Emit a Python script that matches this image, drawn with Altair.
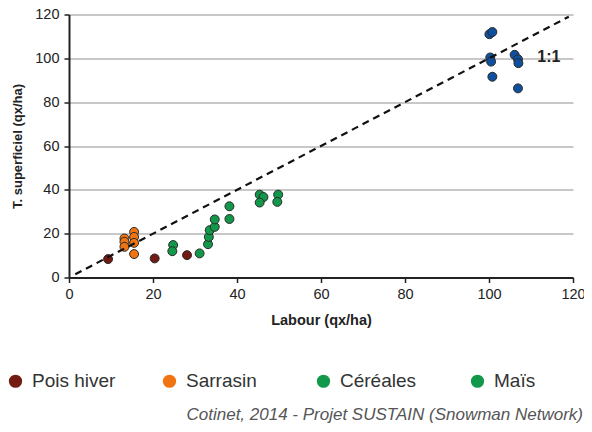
import altair as alt
import pandas as pd

# ---- data ----
pois_x = [9.3, 20.4, 28.1]
pois_y = [8.4, 8.7, 10.2]
sarrasin_x = [13.2, 13.2, 13.2, 15.5, 15.5, 15.5, 15.5]
sarrasin_y = [17.8, 16.3, 14.0, 20.8, 18.5, 15.8, 10.7]
cereales_x = [24.8, 24.6, 31.1, 33.1, 33.3, 33.5, 34.7, 34.7, 38.2, 38.2]
cereales_y = [14.8, 12.0, 11.0, 15.2, 18.5, 21.6, 23.1, 26.5, 32.5, 26.7]
mais_x = [45.4, 46.3, 45.4, 49.8, 49.6]
mais_y = [37.8, 36.7, 34.2, 37.8, 34.5]
autre_x = [100.1, 100.8, 100.3, 100.5, 100.8, 106.1, 106.9, 107.0, 106.9]
autre_y = [111.0, 112.0, 100.4, 98.5, 91.6, 101.6, 99.6, 97.8, 86.3]

categories = ["Pois hiver", "Sarrasin", "Céréales", "Maïs", "Autre"]
colors = ["#731b12", "#f07512", "#12984a", "#12984a", "#0e4f9e"]

line_x = [1.5, 119.0]
label_x = [111.5]
label_y = [100.7]
label_text = ["1:1"]
source_text = ["Cotinet, 2014 - Projet SUSTAIN (Snowman Network)"]

ticks = [0, 20, 40, 60, 80, 100, 120]

rows = []
for cat, xs, ys in [("Pois hiver", pois_x, pois_y), ("Sarrasin", sarrasin_x, sarrasin_y),
                    ("Céréales", cereales_x, cereales_y), ("Maïs", mais_x, mais_y),
                    ("Autre", autre_x, autre_y)]:
    for x, y in zip(xs, ys):
        rows.append({"cat": cat, "x": x, "y": y})
df = pd.DataFrame(rows)
line_df = pd.DataFrame({"x": line_x, "y": line_x})
label_df = pd.DataFrame({"x": label_x, "y": label_y, "t": label_text})
source_df = pd.DataFrame({"t": source_text})

FONT = "Liberation Sans Narrow, Liberation Sans, sans-serif"

xscale = alt.Scale(domain=[0, 120], nice=False)
yscale = alt.Scale(domain=[0, 120], nice=False)

xaxis = alt.Axis(values=ticks, title="Labour (qx/ha)", grid=False, domainColor="#222",
                 domainWidth=2, tickColor="#222", tickWidth=1.5, tickSize=5,
                 labelFontSize=14.5, labelFont=FONT, labelColor="#222", labelPadding=5,
                 labelFlush=False, labelOverlap=False,
                 titleFont=FONT, titleFontSize=14.5, titleFontWeight="bold", titleColor="#222",
                 titlePadding=12)
yaxis = alt.Axis(values=ticks, title="T. superficiel (qx/ha)", grid=True, gridColor="#c8c8c8",
                 gridWidth=2, domainColor="#222", domainWidth=2, tickColor="#222",
                 tickWidth=1.5, tickSize=5, labelFontSize=14.5, labelFont=FONT,
                 labelColor="#222", labelPadding=5, labelFlush=False, labelOverlap=False,
                 titleFont=FONT, titleFontSize=13,
                 titleFontWeight="bold", titleColor="#222", titlePadding=10)

points = alt.Chart(df).mark_circle(size=80, opacity=1, stroke="#2a2a2a", strokeWidth=1).encode(
    x=alt.X("x:Q", scale=xscale, axis=xaxis),
    y=alt.Y("y:Q", scale=yscale, axis=yaxis),
    color=alt.Color("cat:N", scale=alt.Scale(domain=categories, range=colors),
                    legend=alt.Legend(values=categories[:4], title=None, orient="none",
                                      legendX=-63, legendY=357, direction="horizontal",
                                      columns=4, columnPadding=44, gridAlign="all",
                                      symbolType="circle",
                                      symbolSize=175, symbolStrokeWidth=0, symbolOpacity=1,
                                      labelFontSize=19, labelFont="Liberation Sans",
                                      labelColor="#333", labelOffset=7)),
)

line = alt.Chart(line_df).mark_line(color="#111", strokeWidth=2.2, strokeDash=[7, 5]).encode(
    x=alt.X("x:Q", scale=xscale),
    y=alt.Y("y:Q", scale=yscale),
)

label = alt.Chart(label_df).mark_text(fontSize=16, fontWeight="bold", font=FONT,
                                      color="#222", align="left").encode(
    x=alt.X("x:Q", scale=xscale), y=alt.Y("y:Q", scale=yscale), text="t:N")

source = alt.Chart(source_df).mark_text(fontSize=17, fontStyle="italic", font="Liberation Sans",
                                        color="#555", align="right", baseline="alphabetic").encode(
    x=alt.value(514), y=alt.value(405), text="t:N")

chart = alt.layer(points, line, label, source).properties(
    width=504, height=263,
    autosize=alt.AutoSizeParams(type="none"),
    padding={"left": 61, "top": 6.5, "right": 11, "bottom": 146.5},
).configure_view(stroke=None)

chart.save("out.html", embed_options={"renderer": "svg", "actions": False})
